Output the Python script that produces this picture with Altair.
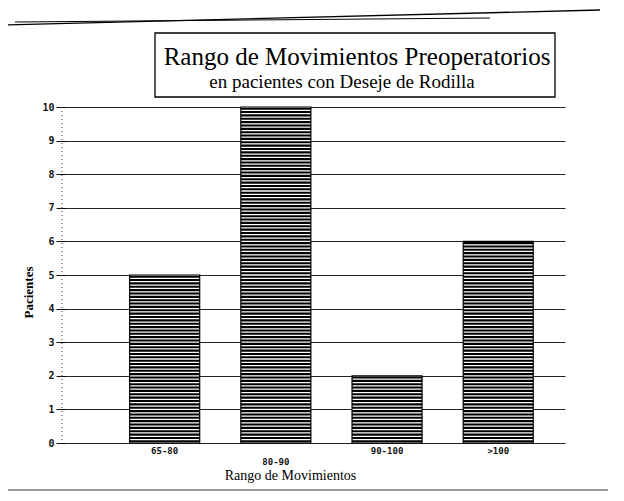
import altair as alt
import pandas as pd
import numpy as np

categories = ["65-80", "80-90", "90-100", ">100"]
patients = [5, 10, 2, 6]

title_main = "Rango de Movimientos Preoperatorios"
title_sub = "en pacientes con Deseje de Rodilla"
x_title = "Rango de Movimientos"
y_title = "Pacientes"

bars = pd.DataFrame({"rango": categories, "pacientes": patients})

# horizontal hatch lines derived from the bar values
hatch_rows = []
for c, v in zip(categories, patients):
    for y in np.arange(0.05, v, 0.1):
        hatch_rows.append({"rango": c, "y": float(y)})
hatch = pd.DataFrame(hatch_rows)

W, H = 497, 336
SERIF = "Liberation Serif"

xscale = alt.Scale(domain=categories, paddingInner=0.37, paddingOuter=0.42, align=0.66)
yscale = alt.Scale(domain=[0, 10], nice=False)

xaxis = alt.Axis(
    title=x_title, titleFont=SERIF, titleFontSize=14, titleFontWeight="normal",
    titleX=222, titleY=36, titleBaseline="alphabetic",
    labelFont="DejaVu Sans Mono", labelFontSize=9, labelFontWeight="bold",
    labelAngle=0, labelPadding=3, ticks=False, domain=False, labelColor="#111",
    labelExpr="datum.index == 1/3 ? ['', datum.label] : datum.label",
)
yaxis = alt.Axis(
    title=y_title, titleFont=SERIF, titleFontSize=13, titleFontWeight="bold",
    titleX=-33, titleY=185, titleAngle=-90, titleAlign="center",
    labelFont="DejaVu Sans Mono", labelFontSize=10, labelFontWeight="bold",
    values=list(range(0, 11)), labelOverlap=False,
    tickSize=12, tickColor="#111", labelPadding=2,
    grid=True, gridColor="#222", gridWidth=1, domain=False, labelColor="#111",
)

outline = alt.Chart(bars).mark_bar(fill="white", stroke="black", strokeWidth=1.2).encode(
    x=alt.X("rango:N", scale=xscale, axis=xaxis, sort=categories),
    y=alt.Y("pacientes:Q", scale=yscale, axis=yaxis),
)

lines = alt.Chart(hatch).mark_tick(color="black", thickness=2.1, size=70, opacity=1).encode(
    x=alt.X("rango:N", scale=xscale, sort=categories, axis=xaxis),
    y=alt.Y("y:Q", scale=yscale, axis=yaxis),
)

deco = pd.DataFrame({"k": [0]})
base = alt.Chart(deco)

box = base.mark_rect(filled=False, stroke="black", strokeWidth=1.3).encode(
    x=alt.value(87), x2=alt.value(487), y=alt.value(-74), y2=alt.value(-10)
)
t1 = base.mark_text(font=SERIF, fontSize=25, align="center", baseline="alphabetic", color="black").encode(
    x=alt.value(289), y=alt.value(-42), text=alt.value(title_main)
)
t2 = base.mark_text(font=SERIF, fontSize=19, align="center", baseline="alphabetic", color="black").encode(
    x=alt.value(274), y=alt.value(-19), text=alt.value(title_sub)
)
top1 = base.mark_rule(color="black", strokeWidth=1.3).encode(
    x=alt.value(-63), x2=alt.value(532), y=alt.value(-82), y2=alt.value(-97)
)
top2 = base.mark_rule(color="black", strokeWidth=1).encode(
    x=alt.value(-53), x2=alt.value(422), y=alt.value(-85), y2=alt.value(-89)
)
leftline = base.mark_rule(color="#555", strokeWidth=1, strokeDash=[3, 3]).encode(
    x=alt.value(-63), y=alt.value(-70), y2=alt.value(383)
)
bottomline = base.mark_rule(color="#333", strokeWidth=1).encode(
    x=alt.value(-63), x2=alt.value(540), y=alt.value(383)
)
yline = base.mark_rule(color="#333", strokeWidth=1, strokeDash=[1, 3]).encode(
    x=alt.value(-6), y=alt.value(0), y2=alt.value(336)
)

chart = alt.layer(
    outline, lines, box, t1, t2, top1, top2, leftline, bottomline, yline
).properties(
    width=W, height=H,
    autosize=alt.AutoSizeParams(type="none"),
    padding={"left": 60, "top": 99, "right": 51, "bottom": 48},
).configure(background="white").configure_view(strokeWidth=0)

chart.save("out.html", embed_options={"renderer": "svg", "actions": False})
